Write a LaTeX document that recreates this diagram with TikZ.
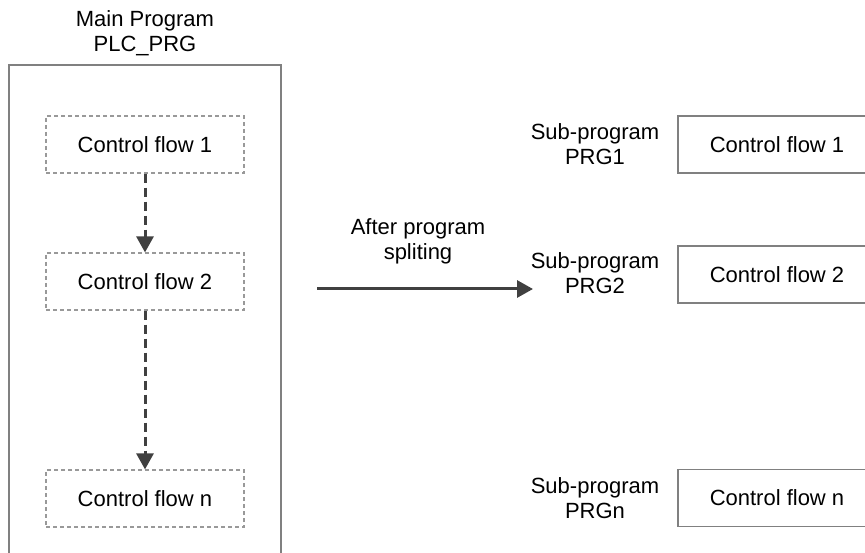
\documentclass[tikz,border=0pt]{standalone}
\usepackage{fontspec}
\setmainfont{Liberation Sans}
\usetikzlibrary{arrows.meta}
\definecolor{boxgray}{HTML}{808080}
\definecolor{dashgray}{HTML}{999999}
\definecolor{arrowgray}{HTML}{404040}
\tikzset{
  txt/.style={font=\fontsize{22}{25}\selectfont, text=black, inner sep=0pt, align=center},
  dashbox/.style={txt, draw=dashgray, line width=1.2pt, dash pattern=on 4pt off 3pt,
    minimum width=198pt, minimum height=57pt},
  solidbox/.style={txt, draw=boxgray, line width=1.2pt, minimum width=198pt, minimum height=57pt},
  flowarrow/.style={draw=arrowgray, line width=3pt, dash pattern=on 9pt off 5pt,
    -{Triangle[width=17pt,length=16pt]}},
  bigarrow/.style={draw=arrowgray, line width=3pt, -{Triangle[width=17pt,length=16pt]}},
}
\begin{document}
\begin{tikzpicture}[x=1pt,y=-1pt]
\useasboundingbox (0,0) rectangle (865,553);
\clip (0,0) rectangle (865,553);
% main program frame (open at bottom, clipped)
\node[draw=boxgray, line width=1.5pt, minimum width=272pt, minimum height=520pt, inner sep=0pt] (main) at (145,325) {};
\node[txt] (mtitle) at (145,33) {Main Program\\PLC\_PRG};
% control flows in main
\node[dashbox] (cf1) at (145,144.5) {Control flow 1};
\node[dashbox] (cf2) at (145,281.5) {Control flow 2};
\node[dashbox] (cfn) at (145,498.5) {Control flow n};
\draw[flowarrow] (cf1) -- (cf2);
\draw[flowarrow] (cf2) -- (cfn);
% splitting arrow
\coordinate (as) at (317,289);
\coordinate (ae) at (533,289);
\draw[bigarrow] (as) -- (ae);
\node[txt] (alabel) at (418,241) {After program\\spliting};
% sub-programs
\node[solidbox] (s1) at (777,144.5) {Control flow 1};
\node[solidbox] (s2) at (777,274.5) {Control flow 2};
\node[solidbox] (sn) at (777,498) {Control flow n};
\node[txt] (l1) at (595,144) {Sub-program\\PRG1};
\node[txt] (l2) at (595,273) {Sub-program\\PRG2};
\node[txt] (ln) at (595,498) {Sub-program\\PRGn};
\end{tikzpicture}
\end{document}
